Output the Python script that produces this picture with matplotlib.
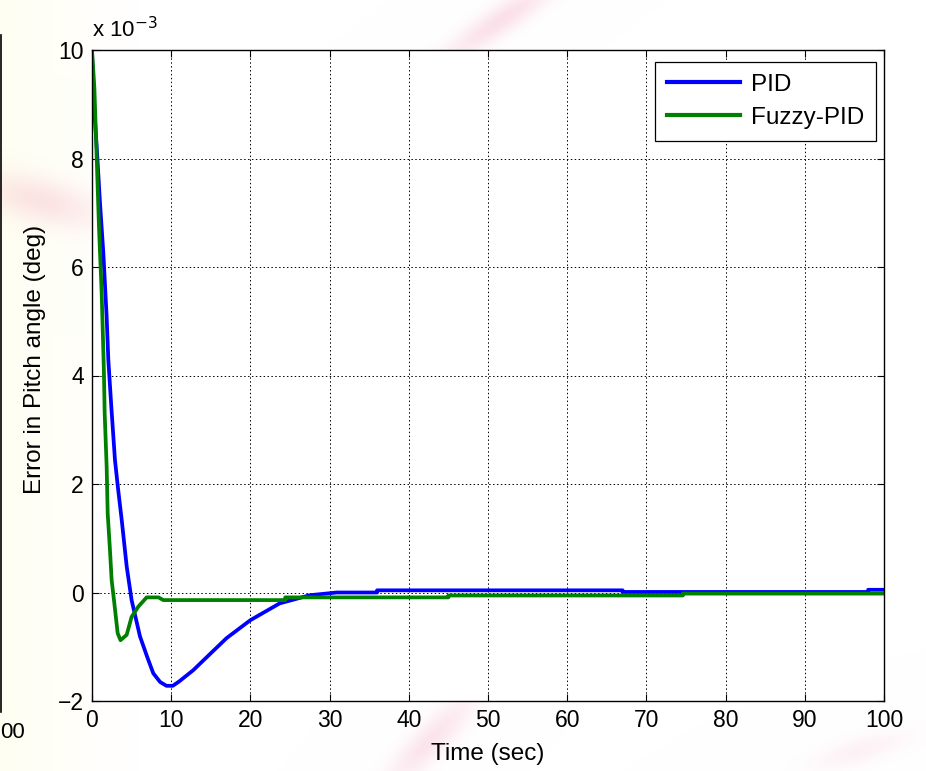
import numpy as np
import matplotlib
matplotlib.use("Agg")
import matplotlib.pyplot as plt
from matplotlib.lines import Line2D

plt.rcParams['font.family'] = ['Liberation Sans', 'DejaVu Sans']

# Pitch-angle error, values in units of 1e-3 deg
t_pid = [0, 0.15, 0.6, 1.0, 1.43, 1.85, 2.06, 2.45, 2.9, 3.3, 3.75, 4.38, 5.0,
         6.06, 7.0, 7.74, 8.6, 9.4, 10.2, 11.0, 12.8, 15.0, 17.0, 20.0, 23.7,
         27.5, 30.9, 36.0, 36.0, 67.0, 67.0, 98.0, 98.0, 100.0]
e_pid = [10.0, 9.2, 8.2, 7.2, 6.26, 5.08, 4.29, 3.4, 2.44, 1.9, 1.34, 0.48, -0.14,
         -0.81, -1.2, -1.49, -1.65, -1.72, -1.72, -1.64, -1.43, -1.12, -0.84, -0.51, -0.2,
         -0.05, 0.0, 0.0, 0.04, 0.04, 0.01, 0.01, 0.05, 0.05]

t_fuzzy = [0, 0.3, 0.59, 0.88, 1.22, 1.5, 1.6, 1.85, 1.98, 2.27, 2.48, 2.82, 3.24,
           3.6, 4.38, 5.0, 5.85, 6.9, 8.4, 9.0, 24.4, 24.4, 45.0, 45.0, 74.6, 74.6, 100.0]
e_fuzzy = [10.0, 9.3, 8.03, 6.74, 5.52, 4.1, 3.3, 2.32, 1.46, 0.78, 0.23, -0.2, -0.75,
           -0.88, -0.78, -0.45, -0.26, -0.09, -0.09, -0.14, -0.14, -0.09, -0.09, -0.055,
           -0.055, -0.02, -0.02]

x_ticks = [0, 10, 20, 30, 40, 50, 60, 70, 80, 90, 100]
y_ticks = [-2, 0, 2, 4, 6, 8, 10]
series_names = ["PID", "Fuzzy-PID"]

W, H = 926, 771
fig = plt.figure(figsize=(W / 100, H / 100), dpi=100)

# soft paper background: yellowish tint on the left, faint pink streaks
yy, xx = np.mgrid[0:H, 0:W].astype(float)
bg = np.ones((H, W, 3))
tint = np.clip(1 - xx / 140.0, 0, 1) * 0.55
bg[..., 2] -= 0.09 * tint
bg[..., 1] -= 0.005 * tint

def streak(cx, cy, sx, sy, ang, amp):
    c, s = np.cos(ang), np.sin(ang)
    u = (xx - cx) * c + (yy - cy) * s
    v = -(xx - cx) * s + (yy - cy) * c
    return amp * np.exp(-(u / sx) ** 2 - (v / sy) ** 2)

pink = (streak(500, 20, 70, 14, -0.6, 0.8) + streak(40, 200, 60, 22, 0.25, 0.7)
        + streak(430, 740, 60, 16, -0.8, 0.7) + streak(860, 750, 50, 14, -0.3, 0.35))
pink = np.clip(pink, 0, 1)
bg[..., 0] -= 0.02 * pink
bg[..., 1] -= 0.15 * pink
bg[..., 2] -= 0.11 * pink
bax = fig.add_axes([0, 0, 1, 1], zorder=-10)
bax.imshow(np.clip(bg, 0, 1), extent=[0, W, H, 0], aspect='auto')
bax.set_xlim(0, W)
bax.set_ylim(H, 0)
bax.axis('off')

# edge of a neighbouring panel
bax.add_line(Line2D([0.8, 0.8], [35, 712], color='black', lw=1.2))
bax.text(0, 733, "00", fontsize=16, ha='left', va='center')

ax = fig.add_axes([92 / W, (H - 701) / H, 792 / W, 651 / H])
ax.set_facecolor('white')
ax.plot(t_pid, e_pid, color='#0000ff', lw=2.7, label=series_names[0])
ax.plot(t_fuzzy, e_fuzzy, color='#008000', lw=2.7, label=series_names[1])

ax.set_xlim(0, 100)
ax.set_ylim(-2, 10)
ax.set_xticks(x_ticks)
ax.set_yticks(y_ticks)
ax.tick_params(direction='in', length=5, width=0.8, top=True, right=True,
               labelsize=16.5, pad=6)
ax.grid(True, color='black', linestyle=(0, (1.5, 2.5)), linewidth=0.7)
for sp in ax.spines.values():
    sp.set_linewidth(1.0)

ax.set_xlabel("Time (sec)", fontsize=17.5, labelpad=8)
ax.set_ylabel("Error in Pitch angle (deg)", fontsize=17.5)
ax.yaxis.set_label_coords(-0.058, 0.524)
ax.text(0.0, 1.012, r"x 10$^{-3}$", transform=ax.transAxes, fontsize=16,
        ha='left', va='bottom')

leg = ax.legend(loc='upper right', bbox_to_anchor=(0.9905, 0.982), fontsize=17.5,
                fancybox=False, edgecolor='black', framealpha=1,
                handlelength=3.0, handletextpad=0.45, borderpad=0.5,
                labelspacing=0.45, borderaxespad=0.0)
leg.get_frame().set_linewidth(0.9)
for h in leg.get_lines():
    h.set_linewidth(3.0)

fig.savefig("out.png", dpi=100)
